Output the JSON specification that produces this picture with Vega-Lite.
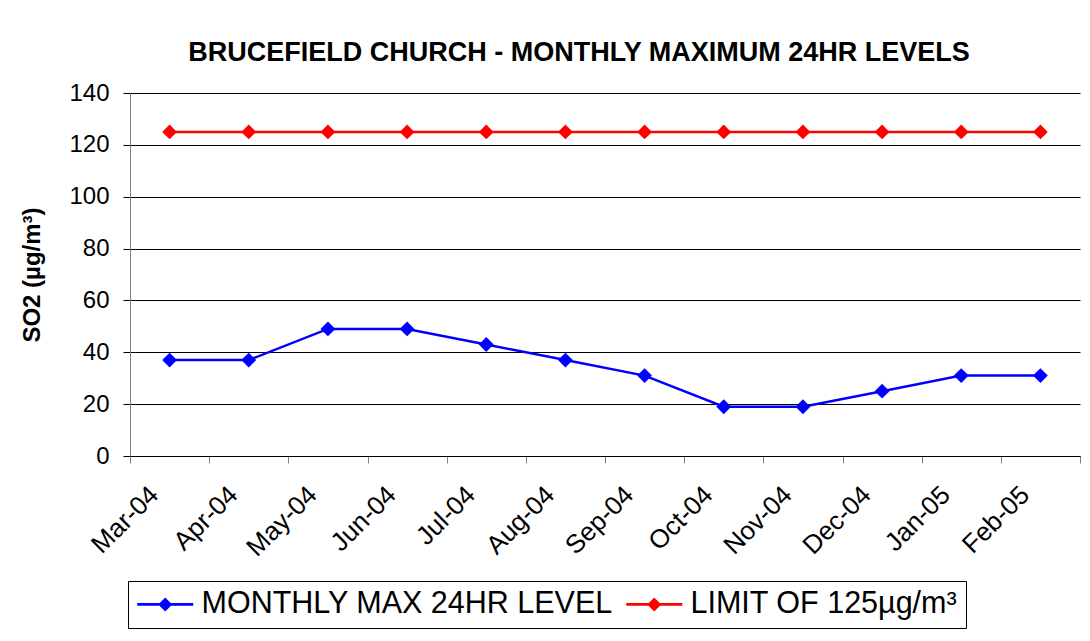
{
  "$schema": "https://vega.github.io/schema/vega-lite/v6.json",
  "width": 950,
  "height": 363,
  "autosize": "none",
  "padding": {"left": 130, "top": 93, "right": 10, "bottom": 185},
  "background": "white",
  "config": {"font": "Liberation Sans", "view": {"stroke": null}},
  "title": {
    "text": "BRUCEFIELD CHURCH - MONTHLY MAXIMUM 24HR LEVELS",
    "fontSize": 27,
    "fontWeight": "bold",
    "color": "black",
    "anchor": "middle",
    "dx": -26,
    "offset": 14
  },
  "data": {
    "values": [
      {"month": "Mar-04", "series": "MONTHLY MAX 24HR LEVEL", "value": 37},
      {"month": "Apr-04", "series": "MONTHLY MAX 24HR LEVEL", "value": 37},
      {"month": "May-04", "series": "MONTHLY MAX 24HR LEVEL", "value": 49},
      {"month": "Jun-04", "series": "MONTHLY MAX 24HR LEVEL", "value": 49},
      {"month": "Jul-04", "series": "MONTHLY MAX 24HR LEVEL", "value": 43},
      {"month": "Aug-04", "series": "MONTHLY MAX 24HR LEVEL", "value": 37},
      {"month": "Sep-04", "series": "MONTHLY MAX 24HR LEVEL", "value": 31},
      {"month": "Oct-04", "series": "MONTHLY MAX 24HR LEVEL", "value": 19},
      {"month": "Nov-04", "series": "MONTHLY MAX 24HR LEVEL", "value": 19},
      {"month": "Dec-04", "series": "MONTHLY MAX 24HR LEVEL", "value": 25},
      {"month": "Jan-05", "series": "MONTHLY MAX 24HR LEVEL", "value": 31},
      {"month": "Feb-05", "series": "MONTHLY MAX 24HR LEVEL", "value": 31},
      {"month": "Mar-04", "series": "LIMIT OF 125µg/m³", "value": 125},
      {"month": "Apr-04", "series": "LIMIT OF 125µg/m³", "value": 125},
      {"month": "May-04", "series": "LIMIT OF 125µg/m³", "value": 125},
      {"month": "Jun-04", "series": "LIMIT OF 125µg/m³", "value": 125},
      {"month": "Jul-04", "series": "LIMIT OF 125µg/m³", "value": 125},
      {"month": "Aug-04", "series": "LIMIT OF 125µg/m³", "value": 125},
      {"month": "Sep-04", "series": "LIMIT OF 125µg/m³", "value": 125},
      {"month": "Oct-04", "series": "LIMIT OF 125µg/m³", "value": 125},
      {"month": "Nov-04", "series": "LIMIT OF 125µg/m³", "value": 125},
      {"month": "Dec-04", "series": "LIMIT OF 125µg/m³", "value": 125},
      {"month": "Jan-05", "series": "LIMIT OF 125µg/m³", "value": 125},
      {"month": "Feb-05", "series": "LIMIT OF 125µg/m³", "value": 125}
    ]
  },
  "encoding": {
    "x": {
      "field": "month",
      "type": "ordinal",
      "sort": null,
      "scale": {"type": "band", "paddingInner": 0, "paddingOuter": 0},
      "axis": {
        "title": null,
        "tickBand": "extent",
        "grid": false,
        "domainColor": "black",
        "tickColor": "#808080",
        "tickSize": 7,
        "labelAngle": -45,
        "labelAlign": "right",
        "labelBaseline": "alphabetic",
        "labelFontSize": 26,
        "labelColor": "black",
        "labelPadding": 33,
        "labelOffset": -10
      }
    },
    "y": {
      "field": "value",
      "type": "quantitative",
      "scale": {"domain": [0, 140]},
      "axis": {
        "values": [0, 20, 40, 60, 80, 100, 120, 140],
        "grid": true,
        "gridColor": "black",
        "gridOpacity": 1,
        "gridWidth": 1,
        "domainColor": "#808080",
        "tickColor": "black",
        "tickSize": 7,
        "labelFontSize": 24,
        "labelColor": "black",
        "labelPadding": 14,
        "title": "SO2 (µg/m³)",
        "titleFontSize": 24,
        "titleFontWeight": "bold",
        "titleColor": "black",
        "titlePadding": 24
      }
    },
    "color": {
      "field": "series",
      "type": "nominal",
      "scale": {
        "domain": ["MONTHLY MAX 24HR LEVEL", "LIMIT OF 125µg/m³"],
        "range": ["#0000FF", "#FF0000"]
      },
      "legend": {
        "title": null,
        "orient": "none",
        "legendX": -2,
        "legendY": 488,
        "direction": "horizontal",
        "strokeColor": "black",
        "fillColor": "white",
        "padding": 8,
        "labelFontSize": 30.5,
        "labelColor": "black",
        "labelLimit": 0,
        "symbolOffset": 14,
        "labelOffset": 21,
        "columnPadding": 12,
        "symbolType": "M-2,-0.1L2,-0.1L2,0.1L-2,0.1Z M-0.5,0L0,-0.5L0.5,0L0,0.5Z",
        "symbolSize": 784,
        "symbolStrokeWidth": 0,
        "symbolOpacity": 1
      }
    }
  },
  "layer": [
    {"mark": {"type": "line", "strokeWidth": 2.5}},
    {"mark": {"type": "point", "shape": "diamond", "filled": true, "size": 220, "opacity": 1}}
  ]
}
